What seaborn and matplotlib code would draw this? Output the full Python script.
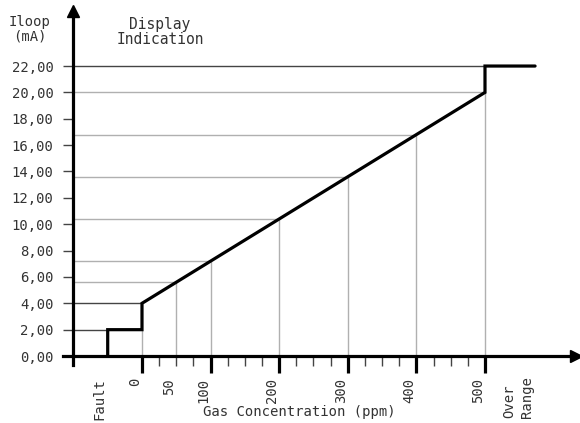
import numpy as np
import matplotlib
matplotlib.use("Agg")
import matplotlib.pyplot as plt
import seaborn as sns
from matplotlib.ticker import FixedLocator

# transfer curve: loop current vs gas concentration
curve_ppm = [-50, -50, 0, 0, 500, 500, 573]
curve_ma = [0, 2, 2, 4, 20, 22, 22]

# grey guide lines from the axes to the curve
guide_ppm = [50, 100, 200, 300, 400, 500]
guide_ma = [5.6, 7.2, 10.4, 13.6, 16.8, 20.0]

y_ticks = [0, 2, 4, 6, 8, 10, 12, 14, 16, 18, 20, 22]
y_labels = ['%.2f' % v for v in y_ticks]
y_labels = [s.replace('.', ',') for s in y_labels]
x_major = [0, 100, 200, 300, 400, 500]
x_major_labels = ['0', '100', '200', '300', '400', '500']
x_minor = [25, 50, 75, 125, 150, 175, 225, 250, 275, 325, 350, 375, 425, 450, 475]
x_minor_labels = ['' if v != 50 else '50' for v in x_minor]

sns.set_style("white")
plt.rcParams['font.family'] = ['DejaVu Sans Mono']
txt = '#333333'

fig = plt.figure(figsize=(5.8, 4.23), dpi=100)
ax = fig.add_axes([0, 0, 1, 1])
ax.set_xlim(-207, 638.5)
ax.set_ylim(-5.08, 27.01)
ax.patch.set_alpha(0)

# guides
ax.vlines(guide_ppm, 0, guide_ma, color='#b0b0b0', lw=1)
ax.hlines(guide_ma, -100, guide_ppm, color='#b0b0b0', lw=1)
ax.vlines([0], 0, 2, color='#b0b0b0', lw=1)
ax.hlines([22], -100, 500, color='#444444', lw=1)
ax.hlines([4], -100, 0, color='#444444', lw=1)
ax.hlines([2], -100, -50, color='#444444', lw=1)

sns.lineplot(x=curve_ppm, y=curve_ma, sort=False, estimator=None, ax=ax,
             color='black', lw=2.3, solid_joinstyle='miter')

# axes as arrows
for s in ['top', 'right']:
    ax.spines[s].set_visible(False)
ax.spines['left'].set_position(('data', -100))
ax.spines['bottom'].set_position(('data', 0))
ax.spines['left'].set_bounds(-0.7, 26.0)
ax.spines['bottom'].set_bounds(-115, 632)
for s in ['left', 'bottom']:
    ax.spines[s].set_linewidth(2.3)
    ax.spines[s].set_color('black')
ax.plot([-100], [26.2], marker='^', ms=8, color='black', clip_on=False)
ax.plot([633], [0], marker='>', ms=8, color='black', clip_on=False)

ax.set_yticks(y_ticks)
ax.set_yticklabels(y_labels, fontsize=10, color=txt)
ax.tick_params(axis='y', direction='out', length=7.2, width=1, pad=7, color='#444444', left=True)

ax.xaxis.set_major_locator(FixedLocator(x_major))
ax.xaxis.set_minor_locator(FixedLocator(x_minor))
ax.set_xticklabels(x_major_labels, fontsize=10, color=txt)
ax.set_xticklabels(x_minor_labels, minor=True, fontsize=10, color=txt)
ax.tick_params(axis='x', which='major', direction='out', length=12.2, width=2.3, pad=3.6,
               color='black', bottom=True)
ax.tick_params(axis='x', which='minor', direction='out', length=7.2, width=1, pad=8.6,
               color='#444444', bottom=True)

# draw once so every tick exists, then rotate the labels
fig.canvas.draw()
for lab in ax.get_xticklabels(which='both'):
    lab.set_rotation(90)
    lab.set_rotation_mode('default')
    lab.set_va('top')
    lab.set_ha('right')

ax.text(-62, -1.67, 'Fault', rotation=90, ha='center', va='top', fontsize=10, color=txt)
ax.text(548, -4.7, 'Over\nRange', rotation=90, ha='center', va='bottom', fontsize=10,
        color=txt, multialignment='left', linespacing=1.35)
ax.text(230, -4.25, 'Gas Concentration (ppm)', ha='center', va='center', fontsize=10, color=txt)

fig.text(30 / 580, 1 - 29 / 423, 'Iloop\n(mA)', ha='center', va='center', fontsize=10,
         color=txt, linespacing=1.0)
fig.text(160 / 580, 1 - 32 / 423, 'Display\nIndication', ha='center', va='center',
         fontsize=10.5, color=txt, linespacing=1.0)

fig.savefig('out.png', dpi=100)
